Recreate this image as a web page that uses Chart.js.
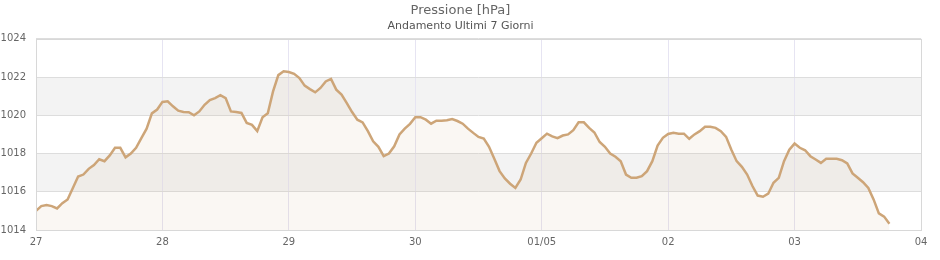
<!DOCTYPE html>
<html>
<head>
<meta charset="utf-8">
<script src="https://cdn.jsdelivr.net/npm/chart.js@4/dist/chart.umd.min.js"></script>
<style>
  html, body { margin: 0; padding: 0; background: #fff; }
  #wrap { width: 940px; height: 260px; }
</style>
</head>
<body>
<div id="wrap"><canvas id="pressione-chart"></canvas></div>
<script>
// Etichette dell'asse x (una per giorno)
const etichetteGiorni = ['27', '28', '29', '30', '01/05', '02', '03', '04'];

// Tick dell'asse y (hPa)
const tickPressione = [1014, 1016, 1018, 1020, 1022, 1024];

// Fasce grigie di sfondo [da, a]
const bandeGrigie = [[1016, 1018], [1020, 1022]];

// Pressione oraria, un array per giorno
const giorno27 = [1015.0, 1015.25, 1015.3, 1015.25, 1015.13, 1015.4, 1015.6, 1016.2, 1016.8, 1016.9, 1017.2, 1017.4,
  1017.7, 1017.6, 1017.9, 1018.3, 1018.3, 1017.8, 1018.0, 1018.3, 1018.8, 1019.3, 1020.1, 1020.3];
const giorno28 = [1020.7, 1020.73, 1020.47, 1020.24, 1020.17, 1020.16, 1020.0, 1020.2, 1020.55, 1020.8, 1020.9, 1021.05,
  1020.9, 1020.2, 1020.17, 1020.12, 1019.6, 1019.5, 1019.17, 1019.9, 1020.1, 1021.25, 1022.1, 1022.3];
const giorno29 = [1022.26, 1022.17, 1021.95, 1021.55, 1021.37, 1021.2, 1021.43, 1021.77, 1021.9, 1021.34, 1021.08, 1020.64,
  1020.17, 1019.77, 1019.63, 1019.17, 1018.64, 1018.35, 1017.86, 1018.0, 1018.38, 1019.0, 1019.3, 1019.55];
const giorno30 = [1019.9, 1019.9, 1019.77, 1019.56, 1019.72, 1019.72, 1019.74, 1019.8, 1019.7, 1019.56, 1019.3, 1019.08,
  1018.87, 1018.78, 1018.35, 1017.72, 1017.08, 1016.7, 1016.42, 1016.2, 1016.64, 1017.51, 1018.0, 1018.56];
const giorno01 = [1018.8, 1019.04, 1018.9, 1018.8, 1018.94, 1019.0, 1019.22, 1019.63, 1019.63, 1019.34, 1019.1, 1018.6,
  1018.35, 1018.0, 1017.83, 1017.6, 1016.9, 1016.73, 1016.73, 1016.82, 1017.08, 1017.6, 1018.42, 1018.82];
const giorno02 = [1019.02, 1019.08, 1019.04, 1019.04, 1018.77, 1019.0, 1019.17, 1019.4, 1019.4, 1019.34, 1019.17, 1018.87,
  1018.2, 1017.6, 1017.3, 1016.9, 1016.3, 1015.8, 1015.74, 1015.9, 1016.47, 1016.73, 1017.6, 1018.2];
const giorno03 = [1018.52, 1018.3, 1018.17, 1017.86, 1017.69, 1017.51, 1017.72, 1017.72, 1017.72, 1017.65, 1017.48, 1016.96,
  1016.73, 1016.5, 1016.2, 1015.6, 1014.87, 1014.7, 1014.33];

const ORE_GIORNO = 24;
const FONT = "'DejaVu Sans', sans-serif";

// Unisce i giorni in una serie oraria {x: ora, y: hPa}
const serie = [giorno27, giorno28, giorno29, giorno30, giorno01, giorno02, giorno03]
  .flat()
  .map((v, i) => ({ x: i, y: v }));

// Plugin: fasce di sfondo e bordo dell'area del grafico
const sfondoPlugin = {
  id: 'sfondo',
  beforeDraw(chart) {
    const { ctx, chartArea, scales } = chart;
    ctx.save();
    ctx.fillStyle = '#f3f3f3';
    bandeGrigie.forEach(([da, a]) => {
      const y1 = scales.y.getPixelForValue(a);
      const y2 = scales.y.getPixelForValue(da);
      ctx.fillRect(chartArea.left, y1, chartArea.right - chartArea.left, y2 - y1);
    });
    ctx.restore();
  },
  afterDraw(chart) {
    const { ctx, chartArea } = chart;
    ctx.save();
    ctx.strokeStyle = '#d8d8d8';
    ctx.lineWidth = 1;
    ctx.strokeRect(Math.round(chartArea.left) + 0.5, Math.round(chartArea.top) + 0.5,
      Math.round(chartArea.right - chartArea.left), Math.round(chartArea.bottom - chartArea.top));
    ctx.restore();
  }
};

const ctx = document.getElementById('pressione-chart').getContext('2d');

new Chart(ctx, {
  type: 'line',
  data: {
    datasets: [{
      label: 'Pressione',
      data: serie,
      borderColor: 'rgb(205, 165, 120)',
      backgroundColor: 'rgba(205, 165, 120, 0.09)',
      borderWidth: 2.5,
      pointRadius: 0,
      tension: 0,
      fill: 'start'
    }]
  },
  options: {
    responsive: true,
    maintainAspectRatio: false,
    animation: false,
    layout: {
      padding: { left: 0, right: 19, top: 0, bottom: 6 }
    },
    plugins: {
      legend: { display: false },
      tooltip: { enabled: false },
      title: {
        display: true,
        text: 'Pressione [hPa]',
        color: '#666',
        font: { family: FONT, size: 13, weight: 'normal' },
        padding: { top: 3, bottom: 1 }
      },
      subtitle: {
        display: true,
        text: 'Andamento Ultimi 7 Giorni',
        color: '#555',
        font: { family: FONT, size: 11, weight: 'normal' },
        padding: { top: 0, bottom: 6 }
      }
    },
    scales: {
      x: {
        type: 'linear',
        min: 0,
        max: (etichetteGiorni.length - 1) * ORE_GIORNO,
        grid: { color: '#e6e4f2', drawTicks: false },
        border: { display: false },
        ticks: {
          stepSize: ORE_GIORNO,
          color: '#666',
          font: { family: FONT, size: 10 },
          padding: 6,
          maxRotation: 0,
          callback: (v) => etichetteGiorni[v / ORE_GIORNO]
        }
      },
      y: {
        min: tickPressione[0],
        max: tickPressione[tickPressione.length - 1],
        grid: { color: '#dddddd', drawTicks: false },
        border: { display: false },
        afterFit: (scale) => { scale.width = 36; },
        ticks: {
          stepSize: 2,
          color: '#666',
          font: { family: FONT, size: 10 },
          padding: 10,
          callback: (v) => tickPressione.includes(v) ? v : ''
        }
      }
    }
  },
  plugins: [sfondoPlugin]
});
</script>
</body>
</html>
